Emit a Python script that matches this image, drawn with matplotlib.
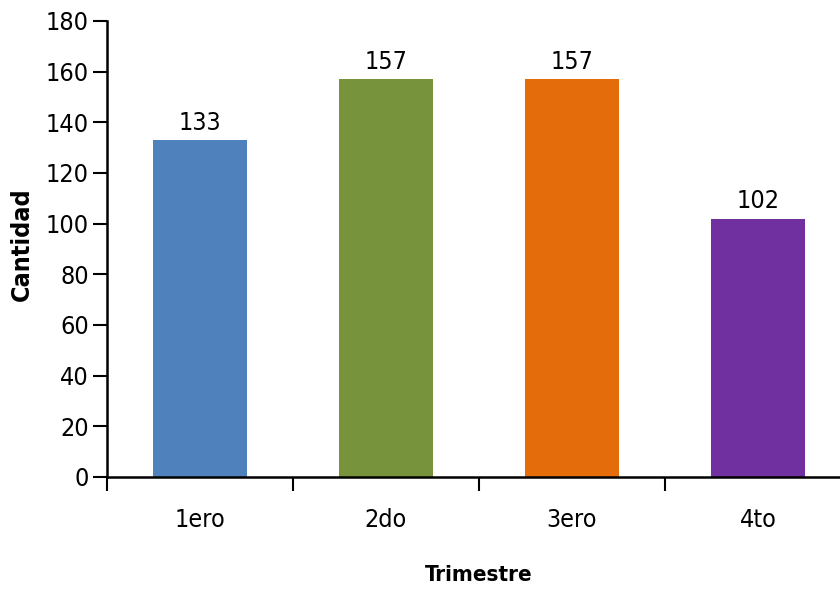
import matplotlib.pyplot as plt

categories = ["1ero", "2do", "3ero", "4to"]
values = [133, 157, 157, 102]
colors = ["#4F81BD", "#77933C", "#E46C0A", "#7030A0"]
yticks = [0, 20, 40, 60, 80, 100, 120, 140, 160, 180]

plt.rcParams['font.family'] = ['DejaVu Sans']
plt.rcParams['font.stretch'] = 'condensed'

fig = plt.figure(figsize=(8.4, 5.91), dpi=100)
ax = fig.add_axes([107 / 840, 1 - 477 / 591, 744 / 840, 456 / 591])

x = range(len(categories))
bars = ax.bar(x, values, width=0.51, color=colors)
for b, v in zip(bars, values):
    ax.annotate(str(v), (b.get_x() + b.get_width() / 2, v), xytext=(0, 4),
                textcoords="offset points", ha="center", va="bottom", fontsize=18)

ax.set_xlim(-0.5, len(categories) - 0.5)
ax.set_ylim(0, 180)
ax.set_yticks(yticks)
ax.set_xticks([i - 0.5 for i in range(len(categories) + 1)])
ax.set_xticklabels([])
ax.set_xticks(list(x), categories, minor=True)
ax.tick_params(axis="x", which="minor", length=0, pad=22, labelsize=18)
ax.tick_params(axis="x", which="major", length=10, width=1.5, direction="out")
ax.tick_params(axis="y", length=10, width=1.5, labelsize=18, pad=3)

for s in ["top", "right"]:
    ax.spines[s].set_visible(False)
for s in ["left", "bottom"]:
    ax.spines[s].set_linewidth(1.8)

ax.set_ylabel("Cantidad", fontsize=18, fontweight="bold")
ax.yaxis.set_label_coords(-73 / 744, 0.51)
ax.set_xlabel("Trimestre", fontsize=16, fontweight="bold")
ax.xaxis.set_label_coords(0.5, -88 / 456)

fig.savefig("out.png", dpi=100)
